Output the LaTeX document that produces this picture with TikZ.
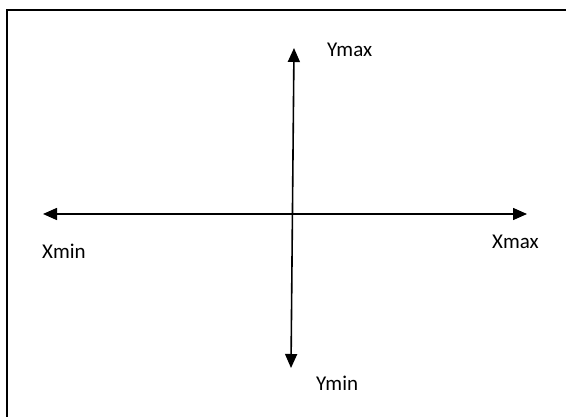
\documentclass[tikz,border=0pt]{standalone}
\usepackage{fontspec}
\setmainfont{Carlito}
\usetikzlibrary{arrows.meta}
\begin{document}
\begin{tikzpicture}[x=1pt,y=-1pt,
  axis/.style={line width=1.6pt, {Triangle[length=14pt,width=12pt]}-{Triangle[length=14pt,width=12pt]}},
  lbl/.style={font=\fontsize{21}{25}\selectfont, inner sep=0pt, anchor=west}]
\useasboundingbox (0,0) rectangle (566,417);
\draw[line width=2pt] (7,10) rectangle (590,440);
\coordinate (xl) at (43,214);
\coordinate (xr) at (527,214);
\coordinate (yt) at (294,48);
\coordinate (yb) at (291,368);
\draw[axis] (xl) -- (xr);
\draw[axis] (yt) -- (yb);
\node[lbl] (ymax) at (327,50) {Ymax};
\node[lbl] (xmin) at (42,251) {Xmin};
\node[lbl] (xmax) at (492,242) {Xmax};
\node[lbl] (ymin) at (316,383) {Ymin};
\end{tikzpicture}
\end{document}
